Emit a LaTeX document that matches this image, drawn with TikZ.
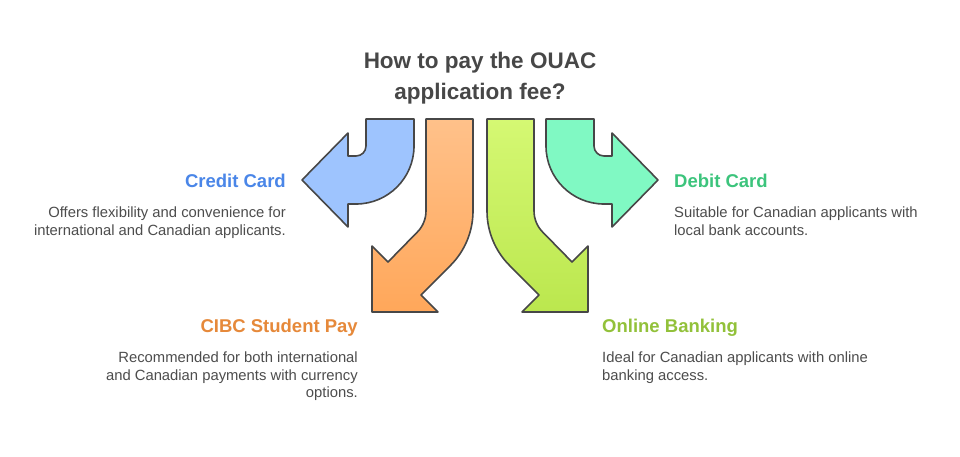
\documentclass[tikz,border=0pt]{standalone}
\usepackage{fontspec}
\setmainfont{Liberation Sans}
\definecolor{edge}{HTML}{474747}
\definecolor{txt}{HTML}{4D4D4D}
\definecolor{titletxt}{HTML}{474747}
\definecolor{bluefill}{HTML}{9EC4FE}
\definecolor{tealfill}{HTML}{80F9C3}
\definecolor{orangetop}{HTML}{FFC18A}
\definecolor{orangebot}{HTML}{FFA75A}
\definecolor{greentop}{HTML}{D5F873}
\definecolor{greenbot}{HTML}{BBE74E}
\definecolor{bluetxt}{HTML}{4A86E8}
\definecolor{tealtxt}{HTML}{3CC47C}
\definecolor{orangetxt}{HTML}{E6893A}
\definecolor{greentxt}{HTML}{92C13A}
\begin{document}
\begin{tikzpicture}[x=1pt,y=-1pt,
  arrowshape/.style={draw=edge, line width=1.6pt, line join=round},
  headtext/.style={font=\fontsize{18.5}{21}\selectfont\bfseries, inner sep=0},
  desctext/.style={font=\fontsize{14.8}{17.5}\selectfont, text=txt, inner sep=0},
  titletext/.style={font=\fontsize{22.5}{31}\selectfont\bfseries, text=titletxt, inner sep=0, align=center}]
\useasboundingbox[fill=white] (0,0) rectangle (960,456);

% blue arrow (left)
\path[arrowshape, fill=bluefill] (366,119) -- (414,119) -- (414,146)
  arc[start angle=0, end angle=90, radius=58] -- (348,204) -- (348,227)
  -- (302,180) -- (348,133) -- (348,156) -- (356,156)
  arc[start angle=90, end angle=0, radius=10] -- cycle;

% teal arrow (right)
\path[arrowshape, fill=tealfill] (594,119) -- (546,119) -- (546,146)
  arc[start angle=180, end angle=90, radius=58] -- (612,204) -- (612,227)
  -- (658,180) -- (612,133) -- (612,156) -- (604,156)
  arc[start angle=90, end angle=180, radius=10] -- cycle;

% orange arrow
\path[arrowshape, top color=orangetop, bottom color=orangebot] (426,119) -- (473,119) -- (473,211)
  arc[start angle=0, end angle=45, radius=77] -- (421,295) -- (438,312)
  -- (372,312) -- (372,246) -- (388,262) -- (417.2,232.2)
  arc[start angle=45, end angle=0, radius=30] -- cycle;

% green arrow
\path[arrowshape, top color=greentop, bottom color=greenbot] (534,119) -- (487,119) -- (487,211)
  arc[start angle=180, end angle=135, radius=77] -- (539,295) -- (522,312)
  -- (588,312) -- (588,246) -- (572,262) -- (542.8,232.2)
  arc[start angle=135, end angle=180, radius=30] -- cycle;

% title
\node[titletext, anchor=north] (title) at (480,52) {How to pay the OUAC\\application fee?};

% credit card
\node[headtext, text=bluetxt, anchor=base east] (cc) at (286,187) {Credit Card};
\node[desctext, align=right, anchor=north east] (ccd) at (286,207) {Offers flexibility and convenience for\\international and Canadian applicants.};

% debit card
\node[headtext, text=tealtxt, anchor=base west] (dc) at (674,187) {Debit Card};
\node[desctext, align=left, anchor=north west] (dcd) at (674,207) {Suitable for Canadian applicants with\\local bank accounts.};

% CIBC
\node[headtext, text=orangetxt, anchor=base east] (cibc) at (358,332) {CIBC Student Pay};
\node[desctext, align=right, anchor=north east] (cibcd) at (358,352) {Recommended for both international\\and Canadian payments with currency\\options.};

% online banking
\node[headtext, text=greentxt, anchor=base west] (ob) at (602,332) {Online Banking};
\node[desctext, align=left, anchor=north west] (obd) at (602,352) {Ideal for Canadian applicants with online\\banking access.};
\end{tikzpicture}
\end{document}
